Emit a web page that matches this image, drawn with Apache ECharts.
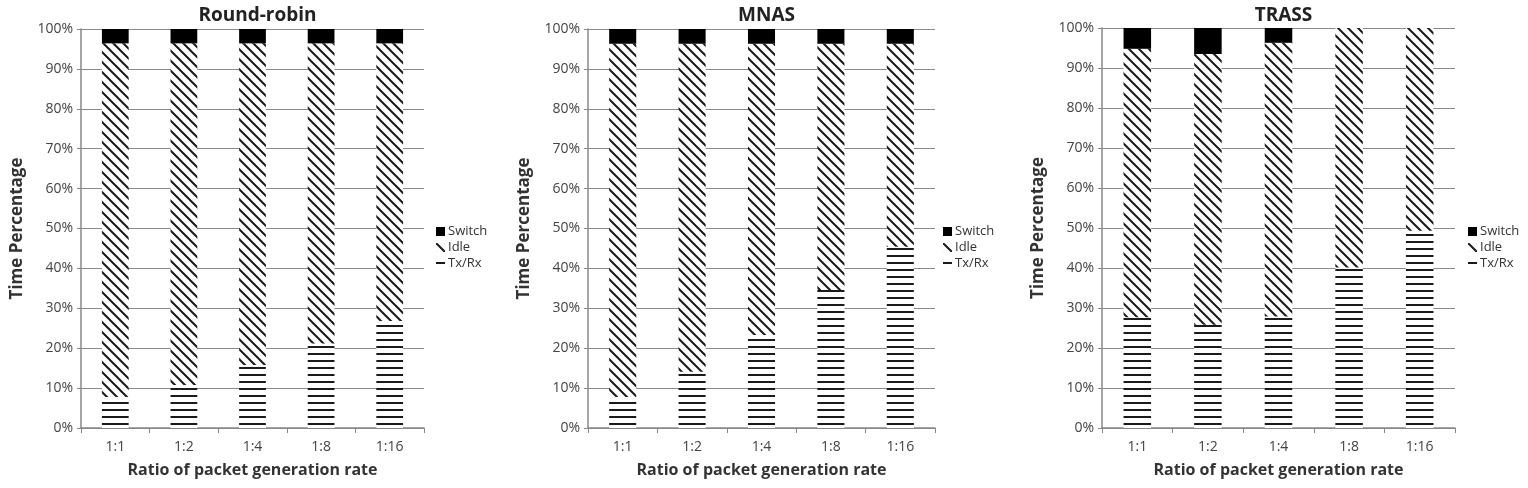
<!DOCTYPE html>
<html>
<head>
<meta charset="utf-8">
<script src="https://cdn.jsdelivr.net/npm/echarts@6/dist/echarts.min.js"></script>
<style>
  html, body { margin: 0; padding: 0; background: #fff; }
  #chart { width: 1528px; height: 488px; }
</style>
</head>
<body>
<div id="chart"></div>
<script>
const categories = ["1:1", "1:2", "1:4", "1:8", "1:16"];
const panelTitles = ["Round-robin", "MNAS", "TRASS"];

// Round-robin
const rrTxRx = [7.8, 10.8, 15.8, 21.2, 26.8];
const rrIdle = [88.6, 85.6, 80.6, 75.2, 69.6];
const rrSwitch = [3.6, 3.6, 3.6, 3.6, 3.6];

// MNAS
const mnasTxRx = [7.8, 14.1, 23.3, 34.6, 45.4];
const mnasIdle = [88.5, 82.2, 73.0, 61.7, 50.9];
const mnasSwitch = [3.7, 3.7, 3.7, 3.7, 3.7];

// TRASS
const trassTxRx = [27.7, 25.8, 27.9, 40.1, 49.3];
const trassIdle = [67.1, 67.7, 68.4, 59.9, 50.7];
const trassSwitch = [5.2, 6.5, 3.7, 0, 0];

const panelData = [
  [rrTxRx, rrIdle, rrSwitch],
  [mnasTxRx, mnasIdle, mnasSwitch],
  [trassTxRx, trassIdle, trassSwitch]
];

// fill patterns
function hatchPattern() {
  const s = 10;
  const c = document.createElement("canvas");
  c.width = s;
  c.height = s;
  const ctx = c.getContext("2d");
  ctx.fillStyle = "#fff";
  ctx.fillRect(0, 0, s, s);
  ctx.strokeStyle = "#1a1a1a";
  ctx.lineWidth = 2;
  ctx.beginPath();
  ctx.moveTo(-2, -2); ctx.lineTo(s + 2, s + 2);
  ctx.moveTo(-s - 2, -2); ctx.lineTo(2, s + 2);
  ctx.moveTo(s - 2, -2); ctx.lineTo(2 * s + 2, s + 2);
  ctx.stroke();
  return c;
}
function stripePattern() {
  const c = document.createElement("canvas");
  c.width = 8;
  c.height = 7;
  const ctx = c.getContext("2d");
  ctx.fillStyle = "#fff";
  ctx.fillRect(0, 0, 8, 7);
  ctx.fillStyle = "#1a1a1a";
  ctx.fillRect(0, 3, 8, 2);
  return c;
}
const idleFill = { image: hatchPattern(), repeat: "repeat" };
const txFill = { image: stripePattern(), repeat: "repeat" };

const grids = [
  { left: 81, top: 29, width: 343, height: 399 },
  { left: 588, top: 29, width: 347, height: 399 },
  { left: 1102, top: 28, width: 353, height: 400 }
];
const legendLeft = [431, 938, 1463];
const font = "'Open Sans', sans-serif";

const options = {
  backgroundColor: "#fff",
  animation: false,
  title: grids.map((g, i) => ({
    text: panelTitles[i],
    left: g.left + g.width / 2,
    textAlign: "center",
    top: 1,
    textStyle: { fontFamily: font, fontSize: 19, fontWeight: "bold", color: "#222" }
  })),
  legend: grids.map((g, i) => ({
    left: legendLeft[i],
    top: 220,
    orient: "vertical",
    itemWidth: 9,
    itemHeight: 9,
    itemGap: 3,
    icon: "rect",
    data: ["Switch", "Idle", "Tx/Rx"],
    textStyle: { fontFamily: font, fontSize: 13, color: "#333", padding: [0, 0, 0, -2] }
  })),
  grid: grids,
  xAxis: grids.map((g, i) => ({
    type: "category",
    gridIndex: i,
    data: categories,
    name: "Ratio of packet generation rate",
    nameLocation: "middle",
    nameGap: 34,
    nameTextStyle: { fontFamily: font, fontSize: 16, fontWeight: "bold", color: "#333" },
    axisLine: { lineStyle: { color: "#888", width: 1.5 } },
    axisTick: { show: true, length: 5, lineStyle: { color: "#888" } },
    axisLabel: { fontFamily: font, fontSize: 14, color: "#444", margin: 12 }
  })),
  yAxis: grids.map((g, i) => ({
    type: "value",
    gridIndex: i,
    min: 0,
    max: 100,
    interval: 10,
    name: "Time Percentage",
    nameLocation: "middle",
    nameGap: 55,
    nameTextStyle: { fontFamily: font, fontSize: 17, fontWeight: "bold", color: "#333" },
    axisLine: { show: true, lineStyle: { color: "#888", width: 1.5 } },
    axisTick: { show: true, length: 4, lineStyle: { color: "#888" } },
    axisLabel: { fontFamily: font, fontSize: 14, color: "#444", margin: 8, formatter: "{value}%" },
    splitLine: { lineStyle: { color: "#8a8a8a", width: 1.2 } }
  })),
  series: []
};

panelData.forEach((d, i) => {
  const common = { type: "bar", stack: "p" + i, xAxisIndex: i, yAxisIndex: i, barWidth: "39%" };
  options.series.push(
    Object.assign({}, common, { name: "Tx/Rx", data: d[0], itemStyle: { color: txFill } }),
    Object.assign({}, common, { name: "Idle", data: d[1], itemStyle: { color: idleFill } }),
    Object.assign({}, common, { name: "Switch", data: d[2], itemStyle: { color: "#000" } })
  );
});

const chart = echarts.init(document.getElementById("chart"));
chart.setOption(options);
</script>
</body>
</html>
